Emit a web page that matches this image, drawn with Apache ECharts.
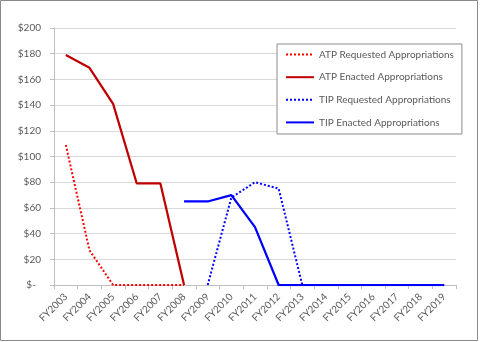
<!DOCTYPE html>
<html>
<head>
<meta charset="utf-8">
<script src="https://cdn.jsdelivr.net/npm/echarts@6/dist/echarts.min.js"></script>
<style>
  html, body { margin: 0; padding: 0; background: #fff; }
  #chart { width: 480px; height: 342px; }
</style>
</head>
<body>
<div id="chart"></div>
<script>
// Fiscal years on the category axis
var fiscalYears = ['FY2003', 'FY2004', 'FY2005', 'FY2006', 'FY2007', 'FY2008', 'FY2009',
  'FY2010', 'FY2011', 'FY2012', 'FY2013', 'FY2014', 'FY2015', 'FY2016', 'FY2017',
  'FY2018', 'FY2019'];

// Appropriations, $ millions (null = no figure for that year)
var atpRequested = [109, 27, 0, 0, 0, 0, null, null, null, null, null, null, null, null, null, null, null];
var atpEnacted   = [179, 169, 141, 79, 79, 0, null, null, null, null, null, null, null, null, null, null, null];
var tipRequested = [null, null, null, null, null, null, 0, 68, 80, 75, 0, 0, 0, 0, 0, 0, 0];
var tipEnacted   = [null, null, null, null, null, 65, 65, 70, 45, 0, 0, 0, 0, 0, 0, 0, 0];

// Y axis range and step
var yMin = 0, yMax = 200, yStep = 20;

var FONT = 'Lato, "Liberation Sans", sans-serif';
var TEXT = '#595959';
var FS = 10;

function lineSeries(name, data, color, dotted, width) {
  return {
    name: name,
    type: 'line',
    data: data,
    symbol: 'none',
    connectNulls: false,
    lineStyle: {
      color: color,
      width: width,
      type: dotted ? [2, 2] : 'solid',
      cap: 'butt'
    },
    itemStyle: { color: color }
  };
}

function draw() {
  var chart = echarts.init(document.getElementById('chart'), null, { renderer: 'canvas' });
  chart.setOption({
    animation: false,
    backgroundColor: '#ffffff',
    textStyle: { fontFamily: FONT },
    grid: { left: 54, right: 24, top: 28, bottom: 57, containLabel: false },
    graphic: [{
      type: 'rect',
      shape: { x: 0.5, y: 0.5, width: 477, height: 340 },
      style: { fill: null, stroke: '#8a8a8a', lineWidth: 1 },
      silent: true
    }],
    legend: {
      orient: 'vertical',
      left: 277,
      top: 44,
      padding: [5, 8, 6, 8],
      itemWidth: 28,
      itemHeight: 14,
      itemGap: 11.4,
      itemStyle: { opacity: 0 },
      backgroundColor: '#ffffff',
      borderColor: '#8c8c8c',
      borderWidth: 1,
      textStyle: { color: TEXT, fontSize: FS, fontFamily: FONT },
      data: ['ATP Requested Appropriations', 'ATP Enacted Appropriations',
             'TIP Requested Appropriations', 'TIP Enacted Appropriations']
    },
    xAxis: {
      type: 'category',
      data: fiscalYears,
      boundaryGap: true,
      axisLine: { lineStyle: { color: '#bfbfbf', width: 1 } },
      axisTick: { show: true, alignWithLabel: false, length: 4, lineStyle: { color: '#bfbfbf' } },
      axisLabel: { rotate: 45, color: TEXT, fontSize: FS, fontFamily: FONT, margin: 10, interval: 0 },
      splitLine: { show: false }
    },
    yAxis: {
      type: 'value',
      min: yMin,
      max: yMax,
      interval: yStep,
      axisLine: { show: true, lineStyle: { color: '#bfbfbf', width: 1 } },
      axisTick: { show: true, length: 4, lineStyle: { color: '#bfbfbf' } },
      axisLabel: {
        color: TEXT, fontSize: FS, fontFamily: FONT, margin: 13,
        formatter: function (v) { return v === 0 ? '$-  ' : '$' + v; }
      },
      splitLine: { show: true, lineStyle: { color: '#d9d9d9', width: 1 } }
    },
    series: [
      lineSeries('ATP Requested Appropriations', atpRequested, '#ff0000', true, 2),
      lineSeries('ATP Enacted Appropriations', atpEnacted, '#c00000', false, 2.25),
      lineSeries('TIP Requested Appropriations', tipRequested, '#0000ff', true, 2),
      lineSeries('TIP Enacted Appropriations', tipEnacted, '#0000ff', false, 2.25)
    ]
  });
}

if (document.fonts && document.fonts.load) {
  document.fonts.load(FS + 'px Lato').then(draw, draw);
} else {
  draw();
}
</script>
</body>
</html>
